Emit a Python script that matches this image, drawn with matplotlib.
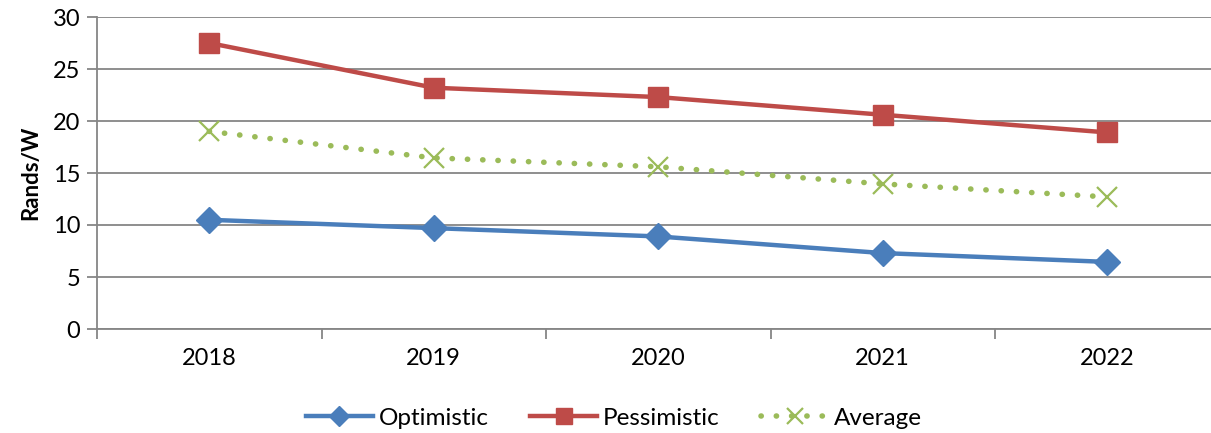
# Cost per watt projections, 2018-2022
import matplotlib.pyplot as plt
from matplotlib.lines import Line2D

plt.rcParams['font.family'] = ['Lato', 'DejaVu Sans']

# data
years = ['2018', '2019', '2020', '2021', '2022']
optimistic = [10.5, 9.7, 8.9, 7.3, 6.45]
pessimistic = [27.5, 23.2, 22.3, 20.6, 18.9]
average = [19.0, 16.45, 15.6, 13.95, 12.7]

blue, red, green = '#4A7EBB', '#BE4B48', '#9BBB59'
dots = (0, (0.05, 2.7))

fig = plt.figure(figsize=(12.11, 4.33), dpi=100)
ax = fig.add_axes([97 / 1211, 1 - 329 / 433, (1211 - 97) / 1211, 312 / 433])

x = range(len(years))
ax.plot(x, optimistic, color=blue, lw=3.2, marker='D', ms=13)
ax.plot(x, pessimistic, color=red, lw=3.2, marker='s', ms=14)
ax.plot(x, average, color=green, lw=4, linestyle=dots,
        dash_capstyle='round', marker='x', ms=14, mew=1.6)

# axes
ax.set_yticks(range(0, 31, 5))
ax.set_xticks(list(x))
ax.set_xticklabels(years)
ax.set_xticks([i + 0.5 for i in range(-1, 5)], minor=True)
ax.set_xlim(-0.5, (1211 - 97) / 224.5 - 0.5)
ax.set_ylim(0, 30)
ax.tick_params(axis='x', which='major', length=0, pad=14, labelsize=17)
ax.tick_params(axis='x', which='minor', length=7, color='#868686', width=1.3)
ax.tick_params(axis='y', length=7, color='#868686', width=1.3, labelsize=17, pad=5)
ax.grid(axis='y', color='#868686', lw=1.3)
ax.set_axisbelow(True)
for s in ['top', 'right']:
    ax.spines[s].set_visible(False)
for s in ['left', 'bottom']:
    ax.spines[s].set_color('#868686')
    ax.spines[s].set_linewidth(1.3)

ax.set_ylabel('Rands/W', fontsize=16, fontweight='bold', labelpad=8)

# legend with smaller markers
handles = [
    Line2D([], [], color=blue, lw=3.2, marker='D', ms=10),
    Line2D([], [], color=red, lw=3.2, marker='s', ms=12),
    Line2D([], [], color=green, lw=4, linestyle=dots, dash_capstyle='round',
           marker='x', ms=11, mew=1.6),
]
fig.legend(handles, ['Optimistic', 'Pessimistic', 'Average'], loc='center',
           bbox_to_anchor=(614 / 1211, 1 - 418 / 433), ncol=3, frameon=False,
           fontsize=17.5, handlelength=2.75, columnspacing=1.7,
           handletextpad=0.25)

fig.savefig('out.png', dpi=100)
